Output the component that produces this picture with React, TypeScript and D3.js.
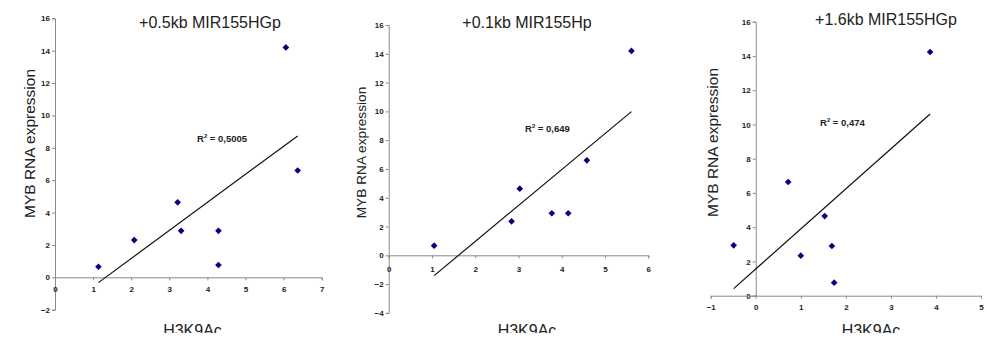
import React, { useRef, useEffect } from "react";
import * as d3 from "d3";

// H3K9Ac (x) vs MYB RNA expression (y)
const titles = ["+0.5kb MIR155HGp", "+0.1kb MIR155Hp", "+1.6kb MIR155HGp"];
const r2Labels = ["0,5005", "0,649", "0,474"];

const x1 = [1.14, 2.08, 3.22, 3.31, 4.29, 4.29, 6.06, 6.37];
const y1 = [0.65, 2.3, 4.63, 2.87, 2.87, 0.76, 14.2, 6.6];

const x2 = [1.05, 2.84, 3.03, 3.77, 4.15, 4.58, 5.61];
const y2 = [0.67, 2.36, 4.63, 2.92, 2.92, 6.6, 14.2];

const x3 = [-0.49, 0.72, 1.0, 1.53, 1.69, 1.74, 3.87];
const y3 = [2.94, 6.64, 2.34, 4.65, 2.9, 0.76, 14.23];

const xDomains = [[0, 7], [0, 6], [-1, 5]];
const yDomains = [[-2, 16], [-4, 16], [0, 16]];

const xTitle = "H3K9Ac";
const yTitle = "MYB RNA expression";

const font = "'Liberation Sans', Arial, sans-serif";
const axisColor = "#8a8a8a";
const textColor = "#222";
const pointColor = "#000080";

// layout of the three panels (pixels)
const panels = [
  { xr: [55, 321.7], yr: [309.7, 18.3], tx: 210, ty: 27.5, rx: 197, ry: 141.5,
    ytx: 34.5, yty: 143.5, yts: 15.5, xtx: 192.5, xPad: 6 },
  { xr: [388.7, 648.3], yr: [312.9, 25], tx: 527, ty: 27.5, rx: 525, ry: 131.5,
    ytx: 366, yty: 152.5, yts: 13.7, xtx: 527, xPad: 8 },
  { xr: [710.7, 981], yr: [295.7, 21.7], tx: 886, ty: 25, rx: 820, ry: 126,
    ytx: 717.8, yty: 142.5, yts: 15.5, xtx: 871, xPad: 6 },
];

function fit(xs: number[], ys: number[]) {
  const mx = d3.mean(xs)!;
  const my = d3.mean(ys)!;
  let sxy = 0, sxx = 0;
  xs.forEach((x, i) => {
    sxy += (x - mx) * (ys[i] - my);
    sxx += (x - mx) * (x - mx);
  });
  const slope = sxy / sxx;
  return { slope, intercept: my - slope * mx };
}

const App = () => {
  const ref = useRef<SVGSVGElement>(null);

  useEffect(() => {
    const svg = d3.select(ref.current);
    svg.selectAll("*").remove();

    svg.append("defs").append("clipPath").attr("id", "cut")
      .append("rect").attr("x", 0).attr("y", 0).attr("width", 987).attr("height", 333);

    const root = svg.append("g").attr("clip-path", "url(#cut)");
    const series = [[x1, y1], [x2, y2], [x3, y3]];

    panels.forEach((p, i) => {
      const [xs, ys] = series[i];
      const xScale = d3.scaleLinear().domain(xDomains[i]).range(p.xr);
      const yScale = d3.scaleLinear().domain(yDomains[i]).range(p.yr);
      const g = root.append("g");

      // y axis at x = 0
      const yAx = g.append("g")
        .attr("transform", `translate(${xScale(0)},0)`)
        .call(d3.axisLeft(yScale).tickValues(d3.range(yDomains[i][0], yDomains[i][1] + 0.1, 2))
          .tickSize(3).tickSizeOuter(3).tickPadding(2).tickFormat(d3.format("d")));

      // x axis at y = 0
      const xAx = g.append("g")
        .attr("transform", `translate(0,${yScale(0)})`)
        .call(d3.axisBottom(xScale).tickValues(d3.range(xDomains[i][0], xDomains[i][1] + 0.1, 1))
          .tickSize(3).tickSizeOuter(3).tickPadding(p.xPad).tickFormat(d3.format("d")));

      [yAx, xAx].forEach(ax => {
        ax.select(".domain").attr("stroke", axisColor);
        ax.selectAll(".tick line").attr("stroke", axisColor);
        ax.selectAll(".tick text")
          .style("font-family", font)
          .style("font-size", "8px")
          .style("font-weight", "bold")
          .attr("fill", "#222");
      });

      // trend line
      const { slope, intercept } = fit(xs, ys);
      const [xmin, xmax] = d3.extent(xs) as [number, number];
      g.append("line")
        .attr("x1", xScale(xmin)).attr("y1", yScale(slope * xmin + intercept))
        .attr("x2", xScale(xmax)).attr("y2", yScale(slope * xmax + intercept))
        .attr("stroke", "#111")
        .attr("stroke-width", 1.2);

      // diamonds
      g.selectAll(".pt")
        .data(xs.map((x, k) => [x, ys[k]]))
        .join("path")
        .attr("class", "pt")
        .attr("d", d3.symbol(d3.symbolSquare, 22)())
        .attr("transform", d => `translate(${xScale(d[0])},${yScale(d[1])}) rotate(45)`)
        .attr("fill", pointColor);

      // R² label
      const r2 = g.append("text")
        .attr("x", p.rx).attr("y", p.ry)
        .style("font-family", font)
        .style("font-size", "9.5px")
        .style("font-weight", "bold")
        .attr("fill", textColor);
      r2.append("tspan").text("R");
      r2.append("tspan").attr("dy", -4).style("font-size", "6px").text("2");
      r2.append("tspan").attr("dy", 4).text(" = " + r2Labels[i]);

      // title
      g.append("text")
        .attr("x", p.tx).attr("y", p.ty)
        .attr("text-anchor", "middle")
        .style("font-family", font)
        .style("font-size", "16px")
        .attr("fill", textColor)
        .text(titles[i]);

      // y title
      g.append("text")
        .attr("transform", `translate(${p.ytx},${p.yty}) rotate(-90)`)
        .attr("text-anchor", "middle")
        .style("font-family", font)
        .style("font-size", `${p.yts}px`)
        .attr("fill", textColor)
        .text(yTitle);

      // x title (cut off at the bottom, as in the picture)
      g.append("text")
        .attr("x", p.xtx).attr("y", 335.5)
        .attr("text-anchor", "middle")
        .style("font-family", font)
        .style("font-size", "16px")
        .attr("fill", textColor)
        .text(xTitle);
    });
  }, []);

  return (
    <svg ref={ref} width={987} height={338}
      style={{ position: "absolute", left: 0, top: 0, background: "#fff" }} />
  );
};

export default App;
